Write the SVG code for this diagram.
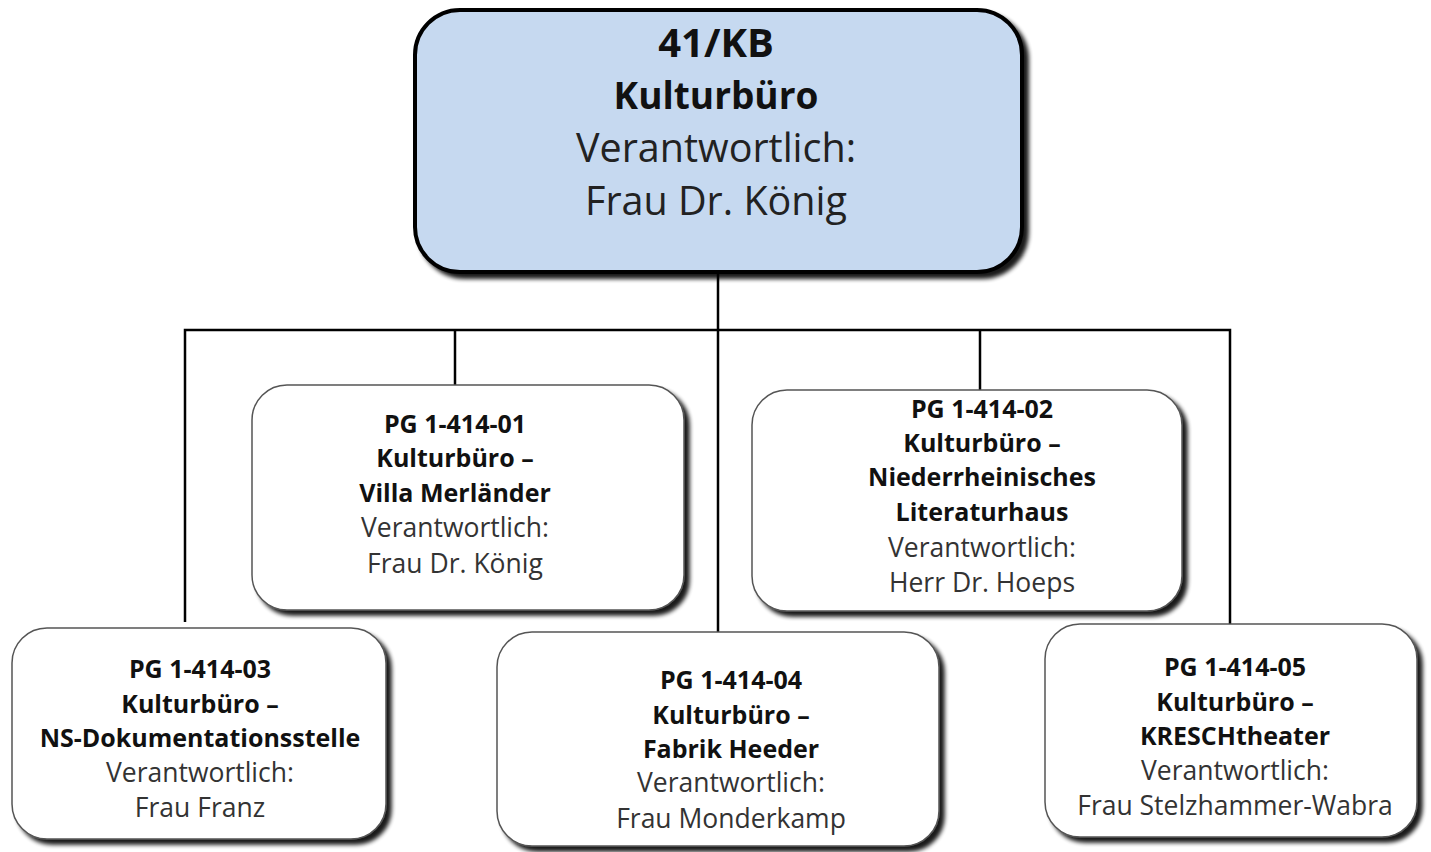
<svg xmlns="http://www.w3.org/2000/svg" width="1431" height="852" viewBox="0 0 1431 852">
<defs>
<filter id="sh" x="-5%" y="-5%" width="115%" height="120%">
<feGaussianBlur in="SourceAlpha" stdDeviation="2"/>
<feOffset dx="5" dy="5" result="o"/>
<feComponentTransfer><feFuncA type="linear" slope="0.9"/></feComponentTransfer>
<feMerge><feMergeNode/><feMergeNode in="SourceGraphic"/></feMerge>
</filter>
</defs>
<style>
.top{fill:#c6d9f0;stroke:#000;stroke-width:4;filter:url(#sh)}
.box{fill:#fff;stroke:#555;stroke-width:1.5;filter:url(#sh)}
.con{stroke:#000;stroke-width:2.5;fill:none}
text{font-family:"Open Sans","Noto Sans","Liberation Sans",sans-serif;text-anchor:middle}
.b{font-weight:bold;fill:#111;font-size:25px}
.r{fill:#333;font-size:26.5px}
.tb{font-weight:bold;fill:#111;font-size:37px}
.tk{font-weight:bold;fill:#111;font-size:40px}
.tr{fill:#222;font-size:39.5px}
</style>
<rect width="1431" height="852" fill="#fff"/>
<g id="connectors">
<line class="con" x1="718" y1="270" x2="718" y2="632"/>
<polyline class="con" points="185,622 185,330 1230,330 1230,624"/>
<line class="con" x1="455" y1="330" x2="455" y2="385"/>
<line class="con" x1="980" y1="330" x2="980" y2="390"/>
</g>
<g id="n0">
<rect class="top" x="415" y="10" width="607" height="262" rx="45"/>
<text class="tk" x="716" y="57">41/KB</text>
<text class="tb" x="716" y="109">Kulturbüro</text>
<text class="tr" x="716" y="162">Verantwortlich:</text>
<text class="tr" x="716" y="215">Frau Dr. König</text>
</g>
<g id="n1">
<rect class="box" x="252" y="385" width="432" height="225" rx="35"/>
<text class="b" x="455" y="433">PG 1-414-01</text>
<text class="b" x="455" y="467">Kulturbüro –</text>
<text class="b" x="455" y="502">Villa Merländer</text>
<text class="r" x="455" y="537">Verantwortlich:</text>
<text class="r" x="455" y="573">Frau Dr. König</text>
</g>
<g id="n2">
<rect class="box" x="752" y="390" width="430" height="221" rx="35"/>
<text class="b" x="982" y="418">PG 1-414-02</text>
<text class="b" x="982" y="452">Kulturbüro –</text>
<text class="b" x="982" y="486">Niederrheinisches</text>
<text class="b" x="982" y="521">Literaturhaus</text>
<text class="r" x="982" y="557">Verantwortlich:</text>
<text class="r" x="982" y="592">Herr Dr. Hoeps</text>
</g>
<g id="n3">
<rect class="box" x="12" y="628" width="374" height="211" rx="35"/>
<text class="b" x="200" y="678">PG 1-414-03</text>
<text class="b" x="200" y="713">Kulturbüro –</text>
<text class="b" x="200" y="747">NS-Dokumentationsstelle</text>
<text class="r" x="200" y="782">Verantwortlich:</text>
<text class="r" x="200" y="817">Frau Franz</text>
</g>
<g id="n4">
<rect class="box" x="497" y="632" width="442" height="214" rx="35"/>
<text class="b" x="731" y="689">PG 1-414-04</text>
<text class="b" x="731" y="724">Kulturbüro –</text>
<text class="b" x="731" y="758">Fabrik Heeder</text>
<text class="r" x="731" y="792">Verantwortlich:</text>
<text class="r" x="731" y="828">Frau Monderkamp</text>
</g>
<g id="n5">
<rect class="box" x="1045" y="624" width="372" height="213" rx="35"/>
<text class="b" x="1235" y="676">PG 1-414-05</text>
<text class="b" x="1235" y="711">Kulturbüro –</text>
<text class="b" x="1235" y="745">KRESCHtheater</text>
<text class="r" x="1235" y="780">Verantwortlich:</text>
<text class="r" x="1235" y="815">Frau Stelzhammer-Wabra</text>
</g>
</svg>
